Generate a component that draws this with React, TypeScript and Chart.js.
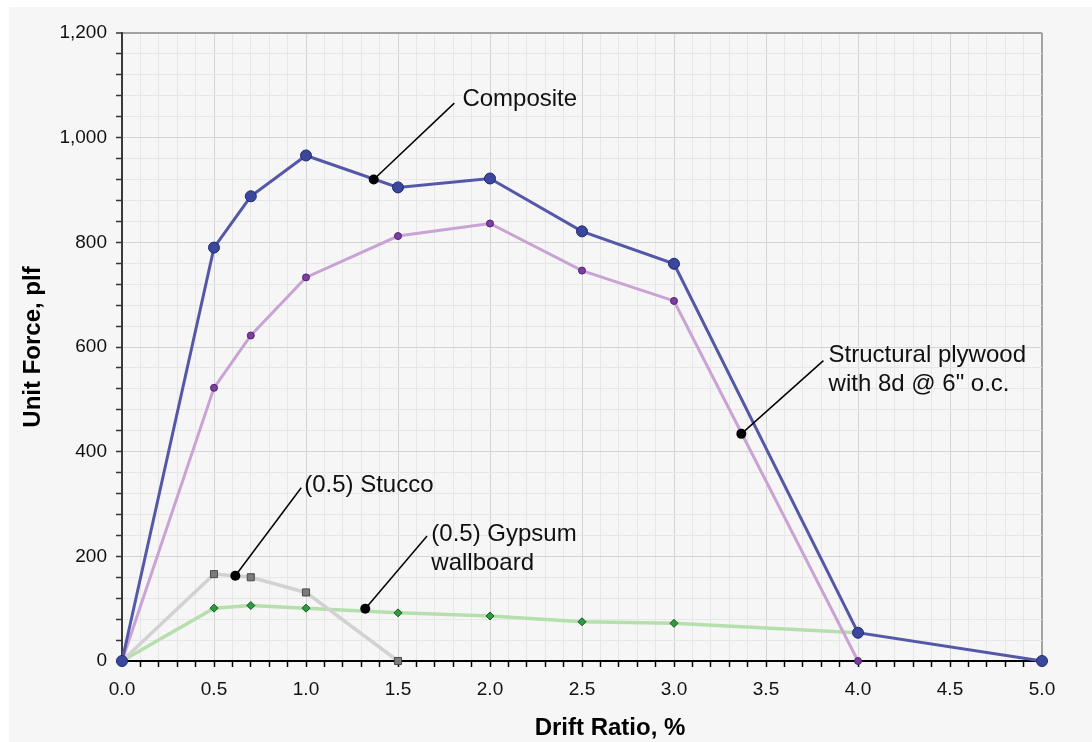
import React, { useEffect, useRef } from 'react';
import { Chart, registerables } from 'chart.js';

Chart.register(...registerables);

// ---- data ----
const driftComposite = [0, 0.5, 0.7, 1.0, 1.5, 2.0, 2.5, 3.0, 4.0, 5.0];
const forceComposite = [0, 790, 888, 966, 905, 922, 821, 759, 54, 0];

const driftPlywood = [0, 0.5, 0.7, 1.0, 1.5, 2.0, 2.5, 3.0, 4.0];
const forcePlywood = [0, 522, 622, 733, 812, 836, 746, 688, 0];

const driftStucco = [0, 0.5, 0.7, 1.0, 1.5];
const forceStucco = [0, 166, 160, 131, 0];

const driftGypsum = [0, 0.5, 0.7, 1.0, 1.5, 2.0, 2.5, 3.0, 4.0];
const forceGypsum = [0, 101, 106, 101, 92, 86, 75, 72, 54];

const xTickLabels = ['0.0', '0.5', '1.0', '1.5', '2.0', '2.5', '3.0', '3.5', '4.0', '4.5', '5.0'];
const yTickLabels = ['0', '200', '400', '600', '800', '1,000', '1,200'];

const calloutTexts = [
  ['Composite'],
  ['Structural plywood', 'with 8d @ 6" o.c.'],
  ['(0.5) Stucco'],
  ['(0.5) Gypsum', 'wallboard'],
];
const calloutDotX = [1.368, 3.366, 0.616, 1.322];
const calloutDotY = [920, 434, 163, 100];
const calloutEndX = [1.806, 3.812, 0.974, 1.658];
const calloutEndY = [1066, 574, 331, 239];
const calloutLabelX = [1.850, 3.840, 0.990, 1.681];
const calloutLabelY = [1060, 572, 322, 230];

const FONT = '"Liberation Sans", Arial, Helvetica, sans-serif';

const pts = (xs: number[], ys: number[]) => xs.map((x, i) => ({ x, y: ys[i] }));
const isMult = (v: number, step: number) => Math.abs(v / step - Math.round(v / step)) < 1e-6;

const calloutPlugin = {
  id: 'calloutText',
  afterDatasetsDraw(chart: any) {
    const { ctx, scales } = chart;
    const xs = scales.x;
    const ys = scales.y;
    ctx.save();
    ctx.fillStyle = '#111';
    ctx.font = `24px ${FONT}`;
    ctx.textAlign = 'left';
    ctx.textBaseline = 'alphabetic';
    calloutTexts.forEach((lines, i) => {
      const px = xs.getPixelForValue(calloutLabelX[i]);
      const py = ys.getPixelForValue(calloutLabelY[i]);
      lines.forEach((t, j) => ctx.fillText(t, px, py + j * 29.5));
    });
    // x axis title
    const ca = chart.chartArea;
    ctx.font = `bold 24px ${FONT}`;
    ctx.textAlign = 'center';
    ctx.fillStyle = '#000';
    ctx.fillText('Drift Ratio, %', (ca.left + ca.right) / 2 + 28, xs.bottom - 7);
    ctx.restore();
  },
};

export default function App() {
  const ref = useRef<HTMLCanvasElement | null>(null);

  useEffect(() => {
    if (!ref.current) return;
    const leaderSets = calloutDotX.map((_, i) => ({
      data: [
        { x: calloutDotX[i], y: calloutDotY[i] },
        { x: calloutEndX[i], y: calloutEndY[i] },
      ],
      borderColor: '#000',
      borderWidth: 1.5,
      pointRadius: 0,
      clip: false as any,
    }));

    const chart = new Chart(ref.current, {
      type: 'line',
      data: {
        datasets: [
          {
            data: pts(calloutDotX, calloutDotY),
            showLine: false,
            pointRadius: 5,
            pointBackgroundColor: '#000',
            pointBorderColor: '#000',
            pointBorderWidth: 0,
            clip: false as any,
          },
          ...leaderSets,
          {
            data: pts(driftComposite, forceComposite),
            borderColor: '#5558a8',
            borderWidth: 3,
            pointStyle: 'circle',
            pointRadius: 5.5,
            pointBackgroundColor: '#3b479c',
            pointBorderColor: '#1f2a72',
            pointBorderWidth: 1,
            clip: false as any,
          },
          {
            data: pts(driftPlywood, forcePlywood),
            borderColor: '#c9a3d3',
            borderWidth: 3,
            pointStyle: 'circle',
            pointRadius: 3.5,
            pointBackgroundColor: '#7d3f9f',
            pointBorderColor: '#4e2172',
            pointBorderWidth: 1,
            clip: false as any,
          },
          {
            data: pts(driftStucco, forceStucco),
            borderColor: '#d2d2d2',
            borderWidth: 3.5,
            pointStyle: 'rect',
            pointRadius: 5,
            pointBackgroundColor: '#7c7c7c',
            pointBorderColor: '#4a4a4a',
            pointBorderWidth: 1,
            clip: false as any,
          },
          {
            data: pts(driftGypsum, forceGypsum),
            borderColor: '#b6dfae',
            borderWidth: 3.5,
            pointStyle: 'rectRot',
            pointRadius: 4,
            pointBackgroundColor: '#2f9a3f',
            pointBorderColor: '#0f5a1f',
            pointBorderWidth: 1,
            clip: false as any,
          },
        ],
      },
      options: {
        animation: false,
        responsive: false,
        maintainAspectRatio: false,
        layout: { padding: { left: 0, top: 26, right: 50, bottom: 0 } },
        plugins: { legend: { display: false }, tooltip: { enabled: false } },
        elements: { line: { tension: 0 } },
        scales: {
          x: {
            type: 'linear',
            min: 0,
            max: 5,
            afterFit: (s: any) => {
              s.height = 81;
            },
            ticks: {
              stepSize: 0.1,
              autoSkip: false,
              maxRotation: 0,
              padding: 11,
              color: '#111',
              font: { size: 19, family: FONT },
              callback: (v: any) => (isMult(Number(v), 0.5) ? xTickLabels[Math.round(Number(v) / 0.5)] : ''),
            },
            grid: {
              color: (c: any) => {
                const v = c.tick ? c.tick.value : 0;
                if (Math.abs(v - 5) < 1e-6) return '#a2a2a2';
                return isMult(v, 0.5) ? '#d4d4d4' : '#e7e7e7';
              },
              lineWidth: (c: any) => {
                const v = c.tick ? c.tick.value : 0;
                return Math.abs(v - 5) < 1e-6 ? 2 : 1;
              },
              tickColor: '#000',
              tickLength: 6,
              tickWidth: 1.5,
            },
            border: { display: true, color: '#000', width: 2 },
          },
          y: {
            type: 'linear',
            min: 0,
            max: 1200,
            afterFit: (s: any) => {
              s.width = 113;
            },
            ticks: {
              stepSize: 40,
              autoSkip: false,
              padding: 9,
              color: '#111',
              font: { size: 19, family: FONT },
              callback: (v: any) => (isMult(Number(v), 200) ? yTickLabels[Math.round(Number(v) / 200)] : ''),
            },
            grid: {
              color: (c: any) => {
                const v = c.tick ? c.tick.value : 0;
                if (Math.abs(v - 1200) < 1e-6) return '#a2a2a2';
                return isMult(v, 200) ? '#d4d4d4' : '#e7e7e7';
              },
              lineWidth: (c: any) => {
                const v = c.tick ? c.tick.value : 0;
                return Math.abs(v - 1200) < 1e-6 ? 2 : 1;
              },
              tickColor: '#333',
              tickLength: 6,
              tickWidth: 1.5,
            },
            border: { display: true, color: '#3a3a3a', width: 2 },
            title: {
              display: true,
              text: 'Unit Force, plf',
              color: '#000',
              font: { size: 24, weight: 'bold', family: FONT },
              padding: { top: 9.5, bottom: 0 },
            },
          },
        },
      } as any,
      plugins: [calloutPlugin],
    });
    return () => chart.destroy();
  }, []);

  return (
    <div style={{ position: 'fixed', left: 0, top: 0, width: 1092, height: 742, background: '#ffffff' }}>
      <div style={{ position: 'absolute', left: 9, top: 7, width: 1083, height: 735, background: '#f6f6f6' }}>
        <canvas ref={ref} width={1083} height={735} style={{ display: 'block', width: 1083, height: 735 }} />
      </div>
    </div>
  );
}
